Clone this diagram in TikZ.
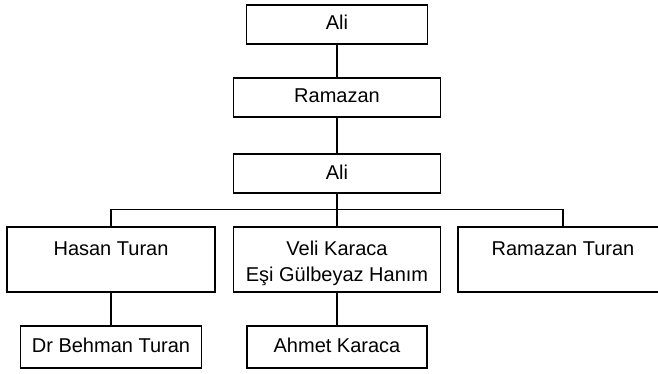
\documentclass[tikz,border=0pt]{standalone}
\usepackage{fontspec}
\setmainfont{Liberation Sans}

\tikzset{
  person/.style={draw, rectangle, line width=1.8pt, inner sep=0pt,
    font=\fontsize{20}{26}\selectfont},
  smallbox/.style={person, minimum height=39pt, text height=11pt, text depth=0pt},
  lowbox/.style={smallbox, minimum height=42pt},
  bigbox/.style={person, minimum height=65pt, align=center,
    text height=43pt, text depth=0pt},
  link/.style={line width=1.8pt}
}

\begin{document}
\begin{tikzpicture}[x=1pt, y=-1pt]
        \useasboundingbox (0,0) rectangle (658,374);
        \clip (0,0) rectangle (658,374);
        \node (ali) at (337, 24.5) [smallbox, minimum width=181pt] {Ali};
        \node (ramazan) at (337, 97.5) [smallbox, minimum width=207pt] {Ramazan};
        \node (ali2) at (337, 173.5) [smallbox, minimum width=207pt] {Ali};
        \coordinate (hub) at (337, 209.5);
        \node (hasan) at (111, 259.5) [bigbox, minimum width=208pt] {Hasan Turan\\\vphantom{Hy}};
        \node (veli) at (337, 259.5) [bigbox, minimum width=207pt] {Veli Karaca\\Eşi Gülbeyaz Hanım};
        \node (ramturan) at (563, 259.5) [bigbox, minimum width=210pt] {Ramazan Turan\\\vphantom{Hy}};
        \node (behman) at (111, 347) [lowbox, minimum width=181pt] {Dr Behman Turan};
        \node (ahmet) at (337, 347) [lowbox, minimum width=180pt] {Ahmet Karaca};
        \draw [link] (ali) -- (ramazan);
        \draw [link] (ramazan) -- (ali2);
        \draw [link] (ali2) -- (veli);
        \draw [link] (hasan.north) |- (hub) -| (ramturan.north);
        \draw [link] (hasan) -- (behman);
        \draw [link] (veli) -- (ahmet);
      \end{tikzpicture}
\end{document}
